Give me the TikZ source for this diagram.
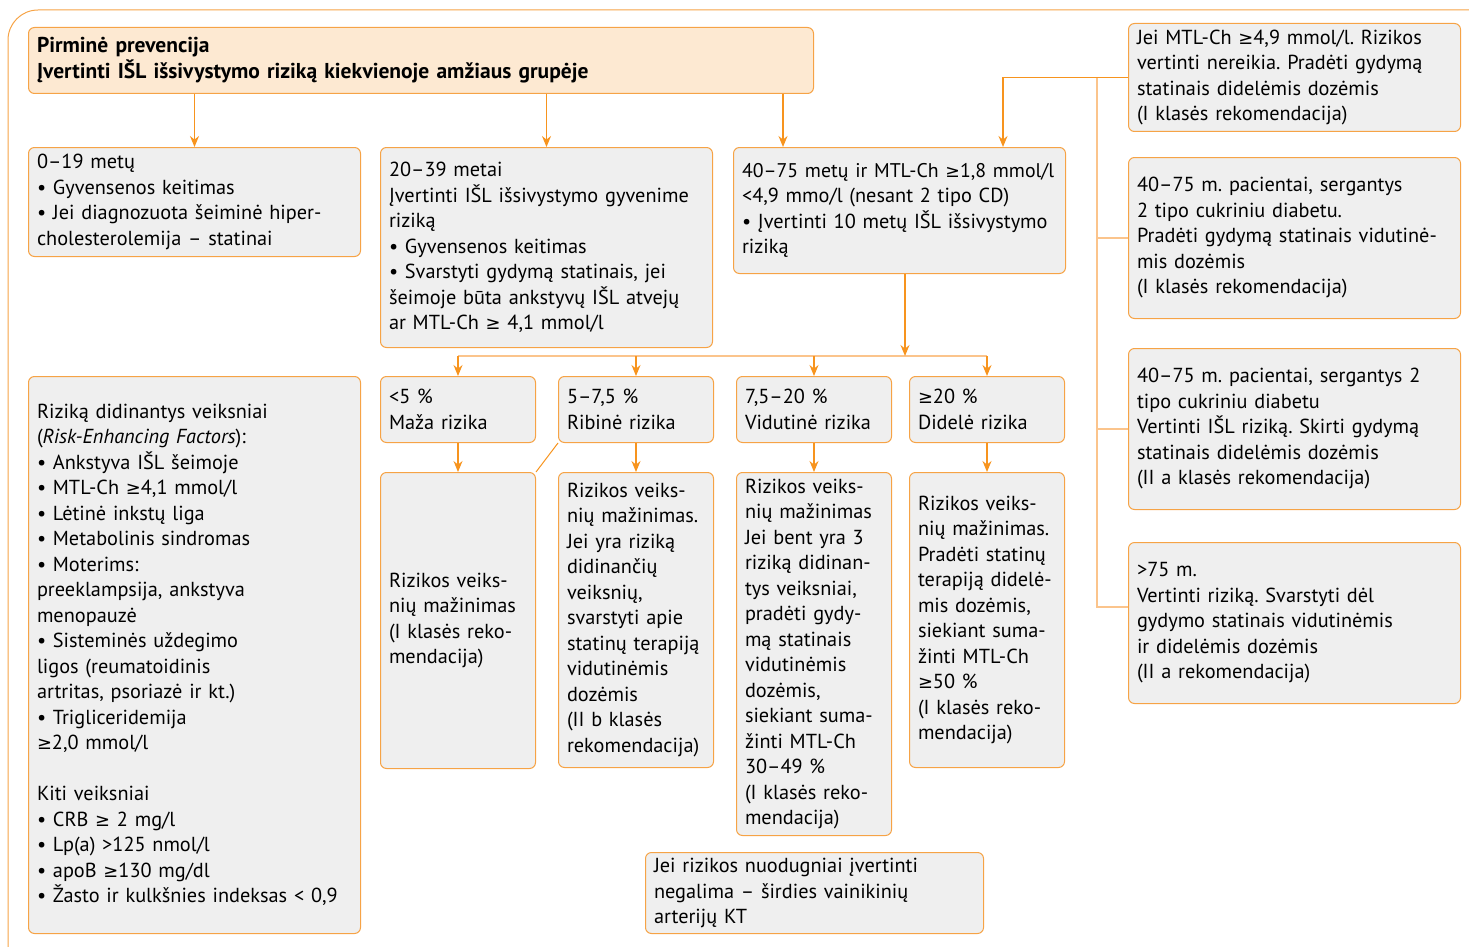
\documentclass[tikz,border=0pt]{standalone}
\usepackage{fontspec}
\setmainfont{PT Sans}
\newfontfamily\symfont[Scale=0.88]{DejaVu Sans}
\newcommand{\gesign}{{\symfont ≥}}
\frenchspacing
\usetikzlibrary{arrows.meta}
\definecolor{frameorange}{RGB}{246,163,70}
\definecolor{arroworange}{RGB}{247,148,30}
\definecolor{busorange}{RGB}{251,196,140}
\definecolor{cellgray}{RGB}{239,239,239}
\definecolor{headpeach}{RGB}{253,233,210}
\tikzset{cell/.style={rectangle, rounded corners=6pt, draw=frameorange, line width=1pt,
   fill=cellgray, anchor=north west, align=left, inner xsep=8.5pt, inner ysep=2pt,
   font=\fontsize{20.3}{25.5}\selectfont}}
\tikzset{head/.style={cell, fill=headpeach, font=\fontsize{21.5}{26}\selectfont\bfseries}}
\tikzset{wh/.style 2 args={minimum width=#1pt, minimum height=#2pt, text width=#1pt-17pt}}
\tikzset{arr/.style={draw=arroworange, line width=1.3pt, -{Stealth[length=11pt, width=9pt]}}}
\tikzset{bus/.style={draw=busorange, line width=2pt}}
\tikzset{link/.style={draw=arroworange, line width=1pt}}

\begin{document}
\begin{tikzpicture}[x=1pt, y=-1pt]

    \useasboundingbox (0,0) rectangle (1469,947);
    \draw[draw=frameorange, line width=1pt, rounded corners=30pt] (8,10) rectangle (1500,990);

    \node[head, wh={785}{66}] (prev) at (28,27) {Pirminė prevencija\\ Įvertinti IŠL išsivystymo riziką kiekvienoje amžiaus grupėje};

    \node[cell, wh={332}{109}] (age19) at (28,147) {0–19 metų\\ • Gyvensenos keitimas\\ • Jei diagnozuota šeiminė hiper-\\cholesterolemija – statinai};
    \node[cell, wh={332}{200}] (age39) at (380,147) {20–39 metai\\ Įvertinti IŠL išsivystymo gyvenime\\ riziką\\ • Gyvensenos keitimas\\ • Svarstyti gydymą statinais, jei\\ šeimoje būta ankstyvų IŠL atvejų\\ ar MTL-Ch \gesign{} 4,1 mmol/l};
    \node[cell, wh={332}{126}] (age75) at (733,147) {\mbox{\fontsize{19.8}{25.5}\selectfont 40–75 metų ir MTL-Ch \gesign1,8 mmol/l}\\ <4,9 mmo/l (nesant 2 tipo CD)\\ • Įvertinti 10 metų IŠL išsivystymo\\ riziką};

    \node[cell, wh={332}{108}] (ldl) at (1128,23) {Jei MTL-Ch \gesign4,9 mmol/l. Rizikos\\ vertinti nereikia. Pradėti gydymą\\ statinais didelėmis dozėmis\\ (I klasės rekomendacija)};
    \node[cell, wh={332}{161}] (dm-mod) at (1128,157) {40–75 m. pacientai, sergantys\\ 2 tipo cukriniu diabetu.\\ Pradėti gydymą statinais vidutinė-\\mis dozėmis\\ (I klasės rekomendacija)};
    \node[cell, wh={332}{161}] (dm-high) at (1128,348) {40–75 m. pacientai, sergantys 2\\ tipo cukriniu diabetu\\ Vertinti IŠL riziką. Skirti gydymą\\ statinais didelėmis dozėmis\\ (II a klasės rekomendacija)};
    \node[cell, wh={332}{161}] (old) at (1128,542) {>75 m.\\ Vertinti riziką. Svarstyti dėl\\ gydymo statinais vidutinėmis\\ ir didelėmis dozėmis\\ (II a rekomendacija)};

    \node[cell, wh={332}{557}] (factors) at (28,376) {Riziką didinantys veiksniai\\ (\textit{Risk-Enhancing Factors}):\\ • Ankstyva IŠL šeimoje\\ • MTL-Ch \gesign4,1 mmol/l\\ • Lėtinė inkstų liga\\ • Metabolinis sindromas\\ • Moterims:\\ preeklampsija, ankstyva\\ menopauzė\\ • Sisteminės uždegimo\\ ligos (reumatoidinis\\ artritas, psoriazė ir kt.)\\ • Trigliceridemija\\ \gesign2,0 mmol/l\\[25.5pt] Kiti veiksniai\\ • CRB \gesign{} 2 mg/l\\ • Lp(a) >125 nmol/l\\ • apoB \gesign130 mg/dl\\ • Žasto ir kulkšnies indeksas < 0,9};

    \node[cell, wh={155}{66}] (low) at (380,376) {<5 \%\\ Maža rizika};
    \node[cell, wh={155}{66}] (border) at (558,376) {5–7,5 \%\\ Ribinė rizika};
    \node[cell, wh={155}{66}] (inter) at (736,376) {7,5–20 \%\\ Vidutinė rizika};
    \node[cell, wh={155}{66}] (high) at (909,376) {\gesign20 \%\\ Didelė rizika};

    \node[cell, wh={155}{296}] (low-tx) at (380,472) {Rizikos veiks-\\nių mažinimas\\ (I klasės reko-\\mendacija)};
    \node[cell, wh={155}{295}] (border-tx) at (558,472) {Rizikos veiks-\\nių mažinimas.\\ Jei yra riziką\\ didinančių\\ veiksnių,\\ svarstyti apie\\ statinų terapiją\\ vidutinėmis\\ dozėmis\\ (II b klasės\\ rekomendacija)};
    \node[cell, wh={155}{363}] (inter-tx) at (736,472) {Rizikos veiks-\\nių mažinimas\\ Jei bent yra 3\\ riziką didinan-\\tys veiksniai,\\ pradėti gydy-\\mą statinais\\ vidutinėmis\\ dozėmis,\\ siekiant suma-\\žinti MTL-Ch\\ 30–49 \%\\ (I klasės reko-\\mendacija)};
    \node[cell, wh={155}{295}] (high-tx) at (909,472) {Rizikos veiks-\\nių mažinimas.\\ Pradėti statinų\\ terapiją didelė-\\mis dozėmis,\\ siekiant suma-\\žinti MTL-Ch\\ \gesign50 \%\\ (I klasės reko-\\mendacija)};

    \node[cell, wh={338}{81}] (cac) at (645,852) {Jei rizikos nuodugniai įvertinti\\ negalima – širdies vainikinių\\ arterijų KT};

    \coordinate (age75-in) at ([xshift=50pt]age75.north west);
    \coordinate (ldl-in) at ([xshift=270pt]age75.north west);
    \coordinate (bus-top) at ([xshift=-31pt]ldl.west);
    \coordinate (old-in) at ([yshift=-65pt]old.north west);
    \coordinate (split) at (905,356);

    \draw[arr] (prev.south -| age19.north) -- (age19.north);
    \draw[arr] (prev.south -| age39.north) -- (age39.north);
    \draw[arr] (prev.south -| age75-in) -- (age75-in);

    \draw[bus] (bus-top) |- (old-in);
    \draw[bus] (bus-top |- dm-mod.west) -- (dm-mod.west);
    \draw[bus] (bus-top |- dm-high.west) -- (dm-high.west);
    \draw[arr] (ldl.west) -| (ldl-in);

    \draw[bus] (split -| low.north) -- (split -| high.north);
    \draw[arr] (split |- age75.south) -- (split);
    \foreach \r in {low, border, inter, high} {
        \draw[arr] (split -| \r.north) -- (\r.north);
        \draw[arr] (\r.south) -- (\r-tx.north);
    }
    \draw[link] (border.south west) -- (low-tx.north east);

\end{tikzpicture}
\end{document}
